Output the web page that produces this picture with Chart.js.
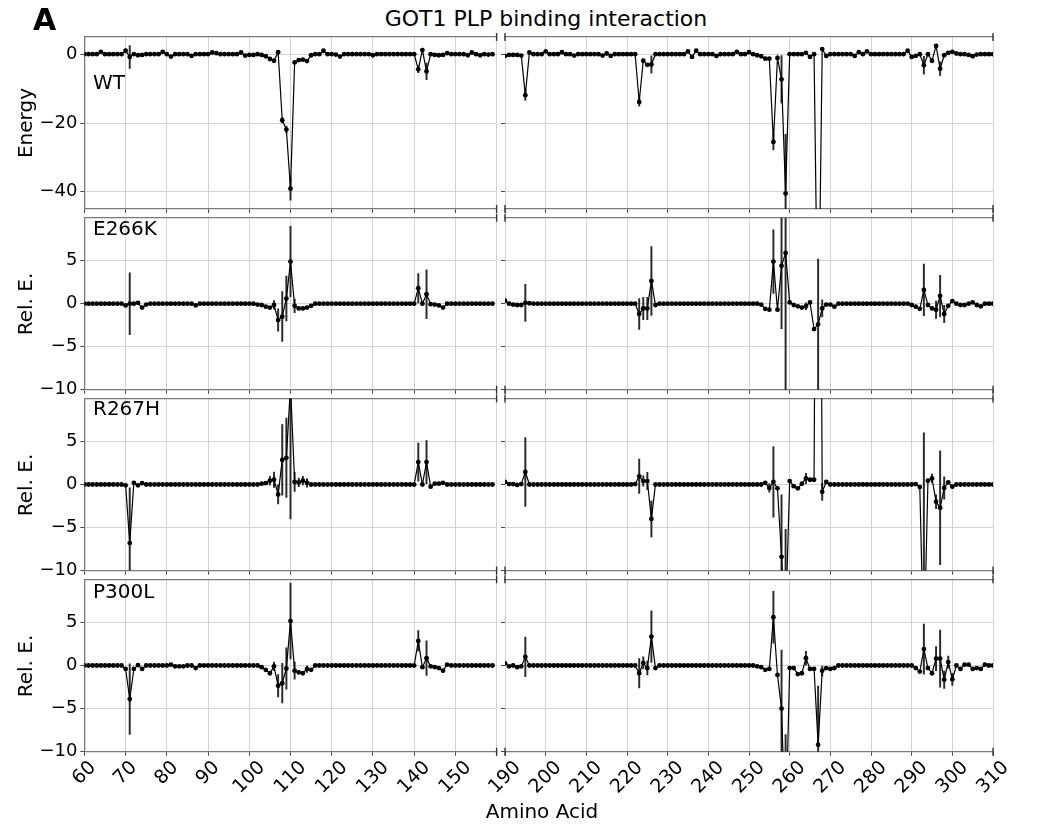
<!DOCTYPE html>
<html><head><meta charset="utf-8">
<script src="https://cdn.jsdelivr.net/npm/chart.js@4.4.0/dist/chart.umd.min.js"></script>
<style>
html,body{margin:0;padding:0;background:#fff;}
#root{position:relative;width:1037px;height:826px;overflow:hidden;background:#fff;}
#root canvas{position:absolute;}
.t{position:absolute;white-space:nowrap;color:#000;font-family:"DejaVu Sans";z-index:5;}
</style></head><body><div id="root"></div>
<script>
// ---------------- DATA ----------------
const leftStart = 60;   // residues 60..159
const rightStart = 190; // residues 190..310
const variants = ['WT', 'E266K', 'R267H', 'P300L'];

const wtLeft = [
 0,0,0,0,0.7,0,0,0,0,0,
 1.0,-0.8,0,-0.3,-0.2,0,0,0,0,0.7,
 0,-0.7,0,0,0,0,-0.5,0,0,0,
 0,0.5,0.3,0,0,0,0,0,0.5,-0.4,
 -0.2,-0.2,0,-0.2,-0.6,-1.4,-1.9,0.6,-19.2,-21.9,
 -39.1,-2.4,-1.7,-1.6,-2.0,-0.3,0,0,1.0,0,
 0,-0.1,-0.7,0,0,0,0,0,0,0,
 -0.3,0,0,0,0,0,0,0,0,0,
 0,-4.4,1.2,-5.0,0,-0.2,-0.3,-0.2,0.3,0,
 0,0,0,-0.3,0.5,0,-0.3,0,-0.1,0];
const wtRight = [
 -0.5,-0.2,-0.2,-0.2,-0.4,-11.9,0.5,0,0,0,
 0.8,0,0,0,0.6,0,0,-0.4,0,0,
 0,0,0,0,-0.4,0.2,-0.5,0,0,0,
 0,0,0,-13.9,-1.9,-3.1,-3.0,0,0,0,
 0,0,0,0,0,0.8,-0.8,1.0,0,0,
 0,0,-0.5,0,0,0,0,0.7,0,0,
 0.6,0,-0.3,-0.6,-1.3,-1.3,-25.5,-1.1,-7.3,-40.5,
 0,0,0,0,0.4,-0.8,0,-90,1.5,-0.5,
 0,0,0,0,0,0,-0.5,0.6,0,0.8,
 0,0,0,0,0,0,0,0,0,1.0,
 -0.8,-0.5,0,-3.2,0,-1.9,2.4,-4.2,-0.3,0.4,
 0.7,0.2,0,0,-0.2,-0.6,-0.1,0,0,0,0];
const wtErr = [[71,3.3],[108,0.8],[109,1.0],[110,3.3],[141,1.0],[143,2.4],
 [195,1.5],[223,1.2],[224,0.5],[226,2.5],[256,2.3],[258,6.9],[259,17.2],[293,2.6],[296,0.5],[297,2.0]];

const e266kLeft = [
 0,0,0,0,0,0,0,0,0,0,
 -0.2,0,0,0.1,-0.45,-0.1,0,0,0,0,
 0,0,0,0,0,0,0,-0.2,0,0,
 0,0,0,0,0,0,0,0,0,0,
 0,0,-0.1,-0.15,-0.35,-0.45,-0.15,-1.9,-1.5,0.6,
 4.9,-0.25,-0.55,-0.55,-0.45,-0.25,0,0,0,0,
 0,0,0,0,0,0,0,0,0,0,
 0,0,0,0,0,0,0,0,0,0,
 0,1.8,0,1.1,-0.05,-0.1,-0.2,-0.45,0,0,
 0,0,0,0,0,0,0,0,0,0];
const e266kRight = [
 0.35,0,-0.1,-0.15,-0.15,0.1,0.05,0,0,0,
 0,0,0,0,0,0,0,0,0,0,
 0,0,0,0,0,0,0,0,0,0,
 0,0,0,-1.2,-0.55,-0.55,2.65,-0.15,0,0,
 0,0,0,0,0,0,0,0,0,0,
 0,0,0,0,0,0,0,0,0,0,
 0,0,0,-0.1,-0.6,-0.7,4.9,-0.7,4.4,5.9,
 0.15,-0.15,-0.3,-0.45,-0.3,0.15,-2.95,-2.4,-0.55,-0.1,
 -0.1,-0.35,0,0,0,0,0,0,0,0,
 0,0,0,0,0,0,0,0,0,0,
 -0.15,-0.35,-0.6,1.6,-0.15,-0.55,-0.7,0.9,-1.2,-0.25,
 0.3,0,-0.15,-0.15,0,0.15,-0.15,-0.3,0,0,0];
const e266kErr = [[71,3.6],[106,0.5],[107,1.3],[108,2.9],[109,2.6],[110,4.1],[111,0.8],[141,1.7],[143,2.85],
 [195,2.15],[223,1.8],[224,1.3],[225,1.3],[226,4.0],[256,3.7],[258,7.3],[259,17],[264,0.4],[267,7.6],[268,1.0],
 [293,3.0],[296,1.0],[297,2.4],[298,1.0]];

const r267hLeft = [
 0,0,0,0,0,0,0,0,0,0,
 -0.1,-6.8,0.2,-0.1,0.15,0,0,0,0,0,
 0,0,0,0,0,0,0,0,0,0,
 0,0,0,0,0,0,0,0,0,0,
 0,0,0,0.1,0.15,0.45,0.55,-1.15,2.85,3.1,
 11.5,0.3,0.25,0.45,0.2,0,0,0,0,0,
 0,0,0,0,0,0,0,0,0,0,
 0,0,0,0,0,0,0,0,0,0,
 0,2.6,0,2.6,-0.25,0.1,0.1,0.2,0,0,
 0,0,0,0,0,0,0,0,0,0];
const r267hRight = [
 0.3,0.05,0.05,-0.05,0.05,1.45,0,0,0,0,
 0,0,0,0,0,0,0,0,0,0,
 0,0,0,0,0,0,0,0,0,0,
 0,0,0.05,0.95,0.4,0.4,-4.0,0,0,0,
 0,0,0,0,0,0,0,0,0,0,
 0,0,0,0,0,0,0,0,0,0,
 0,0,0,0,0.2,-0.4,0.3,-0.45,-8.4,-16,
 0.4,-0.2,-0.45,0.1,0.7,0.55,0.55,90,-0.85,0.3,
 0,0,0,0,0,0,0,0,0,0,
 0,0,0,0,0,0,0,0,0,0,
 0,0.05,-0.3,-20,0.45,0.7,-2.0,-2.7,-0.4,0.25,
 -0.25,0,0,0,0,0,0,0,0,0,0];
const r267hErr = [[71,6.4],[105,0.5],[106,0.9],[107,1.1],[108,4.1],[109,4.6],[110,15.5],[111,1.1],[112,0.5],[113,0.5],[114,0.5],
 [141,2.2],[143,2.5],[195,4.0],[223,2.0],[224,0.6],[225,1.0],[226,2.1],[255,0.5],[256,4.1],[258,7.2],[259,10.8],
 [264,0.6],[268,1.0],[293,26],[295,0.5],[296,0.8],[297,6.6],[298,1.3]];

const p300lLeft = [
 0,0,0,0,0,0,0,0,0,0,
 -0.4,-3.9,-0.4,0.05,-0.4,0,0,0,0,0,
 0,0.1,-0.1,-0.1,-0.1,0,0,-0.3,0,0,
 0,0,0,0,0,0,0,0,0,0,
 0,0,0,-0.2,-0.5,-0.9,-0.1,-2.35,-2.05,-0.35,
 5.15,-0.6,-0.8,-0.9,-0.4,-0.5,0,0,0,0,
 0,0,0,0,0,0,0,0,0,0,
 0,0,0,0,0,0,0,0,0,0,
 0,2.85,-0.2,0.85,-0.1,-0.2,-0.3,-0.6,0.1,0,
 0,0,0,0,0,0,0,0,0,0];
const p300lRight = [
 0.25,-0.1,0,-0.2,-0.1,1.0,0,0,0,0,
 0,0,0,0,0,0,0,0,0,0,
 0,0,0,0,0,0,0,0,0,0,
 0,0,0,-0.9,0.3,-0.3,3.35,-0.3,0,0,
 0,0,0,0,0,0,0,0,0,0,
 0,0,0,0,0,0,0,0,0,0,
 0,0,-0.1,-0.2,-0.5,-0.4,5.6,-1.1,-5.0,-20,
 -0.3,-0.3,-1.0,-0.9,0.85,-0.4,-0.4,-9.2,-0.6,-0.3,
 -0.4,-0.3,0,0,0,0,0,0,0,0,
 0,0,0,0,0,0,0,0,0,0,
 0,-0.3,-0.7,1.9,-0.3,-0.9,0.8,0.8,-1.65,0.4,
 -1.6,0,-0.4,0.1,0.1,-0.4,-0.3,-0.4,0.1,0,0];
const p300lErr = [[71,4.1],[106,0.5],[107,1.3],[108,2.3],[109,2.4],[110,4.4],[111,1.0],[114,0.4],[141,1.2],[143,2.0],
 [195,2.3],[223,1.7],[224,0.7],[225,0.8],[226,3.0],[256,3.0],[258,6.8],[259,12],[264,0.8],[267,6.8],[268,0.6],
 [293,2.9],[296,1.4],[297,3.3],[298,1.0],[299,0.7],[300,0.7]];

const xTicksLeft = [60,70,80,90,100,110,120,130,140,150,160];
const xTicksRight = [190,200,210,220,230,240,250,260,270,280,290,300,310];
const xHiddenLabels = [160];
const yTicksWT = [-40,-20,0];
const yTicksRel = [-10,-5,0,5];
const yLabels = ['Energy','Rel. E.','Rel. E.','Rel. E.'];

// ---------------- LAYOUT ----------------
const FONT = 'DejaVu Sans';
const COLS = [
  {L:84.4, R:496.6, min:60, max:160, ticks:xTicksLeft, start:leftStart},
  {L:505.0, R:993.0, min:190, max:310, ticks:xTicksRight, start:rightStart}
];
const ROWS = [
  {T:37.0, H:172.0, min:-45, max:5, ticks:yTicksWT},
  {T:217.7, H:172.0, min:-10, max:10, ticks:yTicksRel},
  {T:398.4, H:172.2, min:-10, max:10, ticks:yTicksRel},
  {T:579.3, H:172.4, min:-10, max:10, ticks:yTicksRel}
];
const series = [
  {left:wtLeft, right:wtRight, err:wtErr},
  {left:e266kLeft, right:e266kRight, err:e266kErr},
  {left:r267hLeft, right:r267hRight, err:r267hErr},
  {left:p300lLeft, right:p300lRight, err:p300lErr}
];

const SPINE = '#7a7a7a', GRID = '#d3d3d3', TICK = '#444';

const breakMarks = {
  id: 'breakMarks',
  afterDraw(chart, args, opts) {
    const {ctx, chartArea: a} = chart;
    ctx.save();
    ctx.strokeStyle = '#333';
    ctx.lineWidth = 1.4;
    const xs = opts.col === 0 ? [a.right] : [a.left, a.right];
    for (const x of xs) for (const y of [a.top, a.bottom]) {
      ctx.beginPath(); ctx.moveTo(x, y - 4); ctx.lineTo(x, y + 4); ctx.stroke();
    }
    ctx.restore();
  }
};

// x tick labels rotated 45 deg, centred on the tick (placed through the x scale)
const xTickLabels = {
  id: 'xTickLabels',
  afterDraw(chart, args, opts) {
    if (!opts.show) return;
    const sc = chart.scales.x, ctx = chart.ctx;
    ctx.save();
    ctx.font = opts.size + 'px "' + FONT + '"';
    ctx.fillStyle = '#000';
    const y0 = sc.top + opts.offset;
    for (const t of sc.ticks) {
      if (xHiddenLabels.includes(t.value)) continue;
      const lab = String(t.value);
      const w = ctx.measureText(lab).width, h = opts.size * 0.9;
      const d = (w + h) * Math.SQRT1_2 / 2;
      const x = sc.getPixelForValue(t.value);
      ctx.save();
      ctx.translate(x, y0 + d);
      ctx.rotate(-Math.PI / 4);
      ctx.textAlign = 'center';
      ctx.textBaseline = 'middle';
      ctx.fillText(lab, 0, 0);
      ctx.restore();
    }
    ctx.restore();
  }
};

const root = document.getElementById('root');

function makePanel(r, c) {
  const col = COLS[c], row = ROWS[r], s = series[r];
  const vals = c === 0 ? s.left : s.right;
  const isBottom = r === ROWS.length - 1;
  const xH = isBottom ? 70 : 6;
  const canvasLeft = c === 0 ? 0 : Math.floor(col.L) - 45;
  const canvasTop = Math.floor(row.T) - 6;
  const width = Math.ceil(col.R) + (c === 0 ? 6 : 40) - canvasLeft;
  const plotBottom = row.T + row.H - canvasTop;
  const height = Math.ceil(plotBottom + xH) + 1;
  const cv = document.createElement('canvas');
  cv.width = width; cv.height = height;
  cv.style.left = canvasLeft + 'px'; cv.style.top = canvasTop + 'px';
  cv.style.width = width + 'px'; cv.style.height = height + 'px';
  root.appendChild(cv);

  const lineData = vals.map((v, i) => ({x: col.start + i, y: v}));
  const errData = s.err.filter(([res]) => res >= col.min && res <= col.max && (res - col.start) < vals.length)
    .map(([res, e]) => { const v = vals[res - col.start]; return {x: res, y: [v - e, v + e]}; });

  new Chart(cv, {
    type: 'line',
    data: {
      datasets: [
        {type:'line', data: lineData, borderColor:'#000', borderWidth:1.2, pointRadius:2.4,
         pointBackgroundColor:'#000', pointBorderWidth:0, pointHoverRadius:0, tension:0, order:0},
        {type:'bar', data: errData, backgroundColor:'#2a2a2a', borderWidth:0, barThickness:1.3,
         grouped:false, order:1}
      ]
    },
    options: {
      responsive:false, animation:false, devicePixelRatio:1, events:[],
      layout: {padding: {
        left: c === 0 ? 0 : col.L - canvasLeft,
        right: width - (col.R - canvasLeft),
        top: row.T - canvasTop,
        bottom: height - plotBottom - xH
      }},
      plugins: {legend:{display:false}, tooltip:{enabled:false}, title:{display:false},
                breakMarks:{col:c}, xTickLabels:{show:isBottom, size:19, offset:7}},
      scales: {
        x: {
          type:'linear', min:col.min, max:col.max, offset:false, position:'bottom',
          afterBuildTicks: sc => { sc.ticks = col.ticks.map(v => ({value:v})); },
          afterFit: sc => { sc.height = xH; sc.paddingLeft = 0; sc.paddingRight = 0; sc.paddingTop = 0; sc.paddingBottom = 0; },
          grid: {offset:false, color:GRID, lineWidth:1, drawTicks:true, tickLength:4, tickColor:TICK, tickWidth:1},
          border: {display:true, color:SPINE, width:1.3},
          ticks: {display:false, autoSkip:false}
        },
        xTop: {
          type:'linear', axis:'x', position:'top', min:col.min, max:col.max, offset:false,
          afterFit: sc => { sc.height = 0; sc.paddingLeft = 0; sc.paddingRight = 0; sc.paddingTop = 0; sc.paddingBottom = 0; },
          grid: {display:false, drawTicks:false, offset:false},
          border: {display:true, color:SPINE, width:1.3},
          ticks: {display:false}
        },
        y: {
          type:'linear', min:row.min, max:row.max,
          afterBuildTicks: sc => { sc.ticks = row.ticks.map(v => ({value:v})); },
          afterFit: sc => { sc.width = c === 0 ? col.L : 0; sc.paddingTop = 0; sc.paddingBottom = 0; sc.paddingLeft = 0; sc.paddingRight = 0; },
          grid: {color:GRID, lineWidth:1, drawTicks:true, tickLength:4, tickColor:TICK, tickWidth:1},
          border: {display: c === 0, color:SPINE, width:1.3},
          ticks: {display: c === 0, padding:3, color:'#000', font:{family:FONT, size:18},
                  callback: v => String(v).replace('-', '\u2212')}
        }
      }
    },
    plugins: [breakMarks, xTickLabels]
  });
}

for (let r = 0; r < ROWS.length; r++) for (let c = 0; c < COLS.length; c++) makePanel(r, c);

// ---------------- TEXT ----------------
function addText(txt, x, y, size, opts = {}) {
  const d = document.createElement('div');
  d.className = 't';
  d.textContent = txt;
  d.style.fontSize = size + 'px';
  d.style.lineHeight = size + 'px';
  if (opts.bold) d.style.fontWeight = 'bold';
  d.style.left = x + 'px'; d.style.top = y + 'px';
  if (opts.transform) d.style.transform = opts.transform;
  root.appendChild(d);
  return d;
}
addText('A', 33, 4.5, 30, {bold:true});
addText('GOT1 PLP binding interaction', 546, 19, 22, {transform:'translate(-50%,-50%)'});
addText('Amino Acid', 542, 811, 20, {transform:'translate(-50%,-50%)'});
const panelLabelTops = [71.5, 217.8, 398.0, 581.0];
for (let r = 0; r < ROWS.length; r++) {
  addText(variants[r], 93, panelLabelTops[r], 20);
  addText(yLabels[r], 25, ROWS[r].T + ROWS[r].H / 2, 20, {transform:'translate(-50%,-50%) rotate(-90deg)'});
}
</script></body></html>
